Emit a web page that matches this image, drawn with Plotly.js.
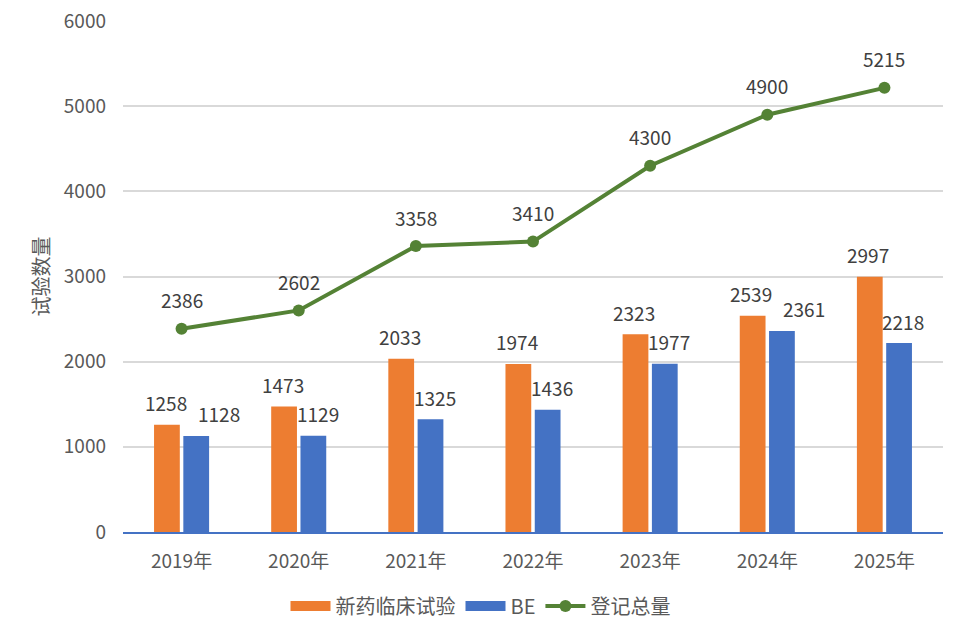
<!DOCTYPE html>
<html>
<head>
<meta charset="utf-8">
<script src="https://cdn.plot.ly/plotly-3.0.1.min.js"></script>
<style>
  html, body { margin: 0; padding: 0; background: #fff; }
  #chart { width: 961px; height: 638px; }
</style>
</head>
<body>
<div id="chart"></div>
<script>
const years = ['2019年', '2020年', '2021年', '2022年', '2023年', '2024年', '2025年'];
const newDrugTrials = [1258, 1473, 2033, 1974, 2323, 2539, 2997];
const beTrials = [1128, 1129, 1325, 1436, 1977, 2361, 2218];
const totalRegistered = [2386, 2602, 3358, 3410, 4300, 4900, 5215];

const font = '"Noto Sans CJK SC", "Liberation Sans", sans-serif';
const labelFont = { family: font, size: 19, color: '#404040' };
const orange = '#ED7D31';
const blue = '#4472C4';
const green = '#548235';

const W = 961, H = 638;
const margin = { l: 123, r: 18, t: 21, b: 106 };
const yMax = 6000;
const pxPerUnit = (H - margin.t - margin.b) / yMax;

const traceNew = {
  x: years,
  y: newDrugTrials,
  type: 'bar',
  name: '新药临床试验',
  marker: { color: orange },
  showlegend: false,
  hoverinfo: 'skip',
};

const traceBE = {
  x: years,
  y: beTrials,
  type: 'bar',
  name: 'BE',
  marker: { color: blue },
  showlegend: false,
  hoverinfo: 'skip',
};

const traceTotal = {
  x: years,
  y: totalRegistered,
  type: 'scatter',
  mode: 'lines+markers',
  name: '登记总量',
  line: { color: green, width: 4 },
  marker: { color: green, size: 12 },
  cliponaxis: false,
  legendrank: 3,
};

// wide flat swatches for the bar series in the legend (Excel style)
const legendNew = {
  x: [null], y: [null], type: 'scatter', mode: 'lines',
  name: '新药临床试验', line: { color: orange, width: 11 }, legendrank: 1,
};
const legendBE = {
  x: [null], y: [null], type: 'scatter', mode: 'lines',
  name: 'BE', line: { color: blue, width: 11 }, legendrank: 2,
};

function label(x, v, xshift, yshift) {
  return { x: x, y: v, text: String(v), showarrow: false, xshift: xshift, yshift: yshift, font: labelFont };
}

// BE labels get nudged right when they would run into the orange label
const annotations = [
  ...newDrugTrials.map((v, i) => label(years[i], v, -16, 22)),
  ...beTrials.map((v, i) => {
    const gap = (newDrugTrials[i] - v) * pxPerUnit;
    return label(years[i], v, gap < 22 ? 37 : 19, 22);
  }),
  ...totalRegistered.map((v, i) => label(years[i], v, 0, 29)),
];

const layout = {
  width: W,
  height: H,
  margin: margin,
  paper_bgcolor: '#fff',
  plot_bgcolor: '#fff',
  font: { family: font, color: '#595959' },
  barmode: 'group',
  bargap: 0.5,
  bargroupgap: 0.12,
  showlegend: true,
  legend: {
    orientation: 'h',
    x: 0.5,
    xanchor: 'center',
    xref: 'container',
    y: 0.05,
    yanchor: 'middle',
    yref: 'container',
    font: { family: font, size: 20, color: '#595959' },
    itemwidth: 40,
  },
  annotations: annotations,
  xaxis: {
    type: 'category',
    showline: true,
    linecolor: blue,
    linewidth: 2,
    ticks: '',
    ticklabelstandoff: 11,
    tickfont: { family: font, size: 19, color: '#595959' },
    showgrid: false,
  },
  yaxis: {
    range: [0, yMax],
    dtick: 1000,
    showgrid: true,
    gridcolor: '#D9D9D9',
    gridwidth: 1.5,
    zeroline: false,
    showline: false,
    ticks: '',
    ticklabelstandoff: 16,
    tickfont: { family: font, size: 19, color: '#595959' },
    title: { text: '试验数量', font: { family: font, size: 20, color: '#595959' }, standoff: 8 },
  },
};

Plotly.newPlot('chart', [traceNew, traceBE, legendNew, legendBE, traceTotal], layout, { displayModeBar: false });
</script>
</body>
</html>
